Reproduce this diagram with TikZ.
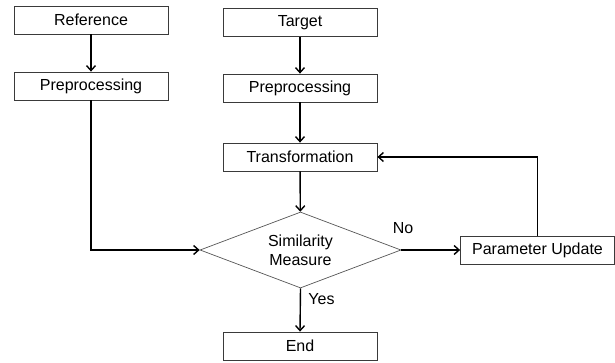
\documentclass[tikz,border=0pt]{standalone}
\usepackage{fontspec}
\setmainfont{Liberation Sans}
\usetikzlibrary{shapes.geometric,arrows.meta}
\begin{document}
\begin{tikzpicture}[x=1pt,y=-1pt,
  box/.style={draw=color0,line width=0.8pt,minimum width=154pt,minimum height=28pt,inner sep=0pt,font=\fontsize{16}{19}\selectfont},
  decision/.style={diamond,draw=color1,line width=0.7pt,minimum width=201pt,minimum height=76pt,aspect=2.64,inner sep=0pt,align=center,font=\fontsize{16}{19}\selectfont},
  flow/.style={line width=1.4pt,-{Straight Barb[length=5pt,width=9pt,line width=1.4pt]}},
  lbl/.style={font=\fontsize{16}{19}\selectfont}]
\definecolor{color0}{HTML}{3A3A3A}
\definecolor{color1}{HTML}{555555}
\useasboundingbox (0,0) rectangle (615,362);
\node[box] (ref) at (91,20) {Reference};
\node[box] (pre1) at (91,86) {Preprocessing};
\node[box] (tgt) at (300,22.5) {Target};
\node[box] (pre2) at (300,88) {Preprocessing};
\node[box] (trans) at (300,157) {Transformation};
\node[decision] (sim) at (300.5,250) {Similarity\\Measure};
\node[box] (upd) at (537.5,250) {Parameter Update};
\node[box] (end) at (300,346) {End};
\draw[flow] (ref) -- (pre1);
\draw[flow] (tgt) -- (pre2);
\draw[flow] (pre2) -- (trans);
\draw[flow] (trans) -- (sim);
\draw[flow] (pre1.south) |- (sim.west);
\draw[flow] (sim.east) -- node[lbl,pos=0.03,above=12pt]{No} (upd.west);
\draw[flow] (sim.south) -- node[lbl,pos=0.25,right=4pt]{Yes} (end.north);
\draw[flow] (upd.north) |- (trans.east);
\end{tikzpicture}
\end{document}
